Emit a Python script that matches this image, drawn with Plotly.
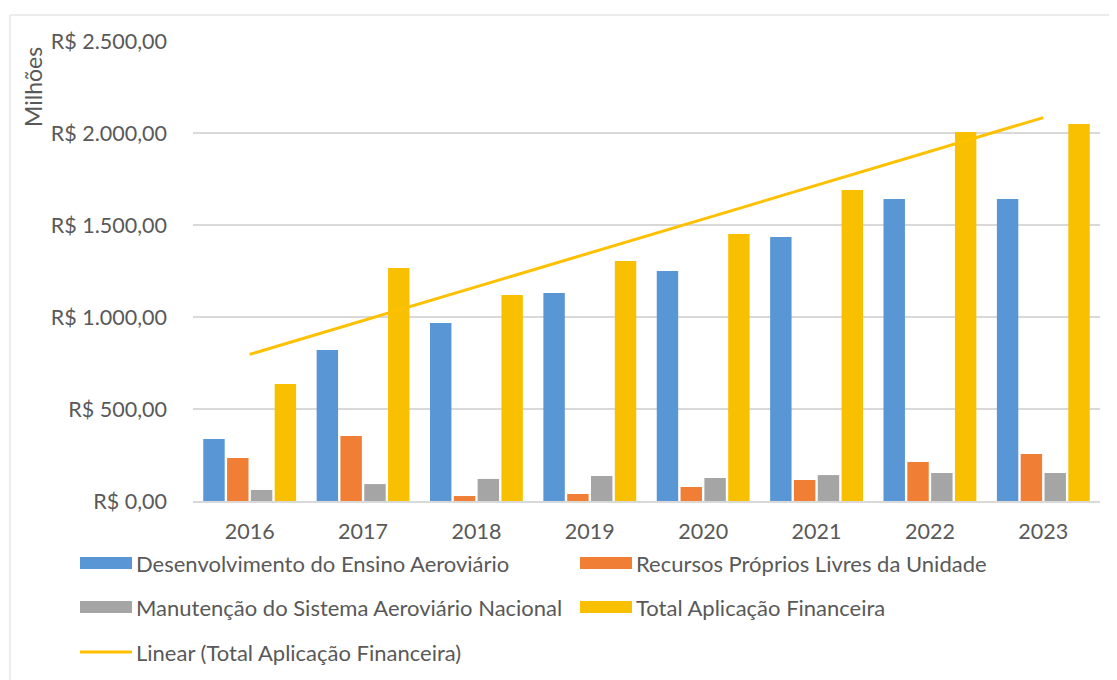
import numpy as np
import plotly.graph_objects as go

years = ["2016", "2017", "2018", "2019", "2020", "2021", "2022", "2023"]
desenvolvimento = [337, 821, 967, 1130, 1250, 1435, 1641, 1641]
recursos = [234, 353, 27, 38, 76, 114, 212, 255]
manutencao = [60, 92, 120, 136, 125, 141, 152, 152]
total = [636, 1266, 1120, 1304, 1451, 1690, 2005, 2049]

series_names = [
    "Desenvolvimento do Ensino Aeroviário",
    "Recursos Próprios Livres da Unidade",
    "Manutenção do Sistema Aeroviário Nacional",
    "Total Aplicação Financeira",
]
trend_name = "Linear (Total Aplicação Financeira)"
colors = ["#5896d6", "#f07f35", "#a5a5a5", "#f8c000"]
tick_vals = [0, 500, 1000, 1500, 2000, 2500]
tick_text = ["R$ 0,00", "R$ 500,00", "R$ 1.000,00", "R$ 1.500,00", "R$ 2.000,00", "R$ 2.500,00"]

# linear trendline computed from the Total series
xi = np.arange(len(years))
slope, intercept = np.polyfit(xi, total, 1)
trend = slope * xi + intercept

FONT = "Lato"
TXT = "#595959"
TICK = 21.5
LEG = 22

fig = go.Figure()
for name, vals, col in zip(series_names, [desenvolvimento, recursos, manutencao, total], colors):
    fig.add_trace(go.Bar(x=years, y=vals, name=name, marker=dict(color=col, line=dict(width=0))))
fig.add_trace(go.Scatter(x=[years[0], years[-1]], y=[trend[0], trend[-1]], mode="lines",
                         name=trend_name, line=dict(color="#ffc000", width=3)))

# page body has an 8px margin
OFF = 8
W, H = 1117 - OFF, 680 - OFF
PL, PR, PT, PB = 193, 1100, 41, 501   # plot area in page pixels
L, T = PL - OFF, PT - OFF
R = W - (PR - OFF)
B = H - (PB - OFF)
pw, ph = PR - PL, PB - PT

def px(x):
    return (x - PL) / pw

def py(y):
    return (PB - y) / ph

shapes = []
annotations = []
# outer border
shapes.append(dict(type="rect", xref="paper", yref="paper", x0=px(10), x1=px(1112), y0=py(15), y1=py(700),
                   line=dict(color="#d9d9d9", width=1), fillcolor="rgba(0,0,0,0)", layer="below"))

legend_items = [
    (80, 563, "rect", colors[0], series_names[0]),
    (580, 563, "rect", colors[1], series_names[1]),
    (80, 607, "rect", colors[2], series_names[2]),
    (580, 607, "rect", colors[3], series_names[3]),
    (80, 652, "line", "#ffc000", trend_name),
]
for x0, yc, kind, col, label in legend_items:
    if kind == "rect":
        shapes.append(dict(type="rect", xref="paper", yref="paper", x0=px(x0), x1=px(x0 + 52),
                           y0=py(yc + 6), y1=py(yc - 6), fillcolor=col, line=dict(width=0)))
    else:
        shapes.append(dict(type="line", xref="paper", yref="paper", x0=px(x0), x1=px(x0 + 52),
                           y0=py(yc), y1=py(yc), line=dict(color=col, width=3)))
    annotations.append(dict(xref="paper", yref="paper", x=px(x0 + 54), y=py(yc), text=label,
                            showarrow=False, xanchor="left", yanchor="middle",
                            font=dict(family=FONT, size=LEG, color=TXT)))

annotations.append(dict(xref="paper", yref="paper", x=px(33), y=py(87), text="Milhões",
                        textangle=-90, showarrow=False, xanchor="center", yanchor="middle",
                        font=dict(family=FONT, size=23, color=TXT)))

fig.update_layout(
    width=W, height=H,
    margin=dict(l=L, r=R, t=T, b=B, pad=0),
    paper_bgcolor="white", plot_bgcolor="white",
    barmode="group", bargap=0.16, bargroupgap=0.1,
    showlegend=False,
    font=dict(family=FONT, size=TICK, color=TXT),
    shapes=shapes, annotations=annotations,
    xaxis=dict(showgrid=False, showline=True, linecolor="#d9d9d9", linewidth=2,
               ticks="", tickfont=dict(family=FONT, size=TICK, color=TXT), ticklabelstandoff=10),
    yaxis=dict(range=[0, 2500], tickvals=tick_vals, ticktext=tick_text, showgrid=True,
               gridcolor="#d9d9d9", gridwidth=2, zeroline=False, showline=False, ticks="",
               ticklabelstandoff=25, tickfont=dict(family=FONT, size=TICK, color=TXT)),
)

fig.write_html("out.html")
